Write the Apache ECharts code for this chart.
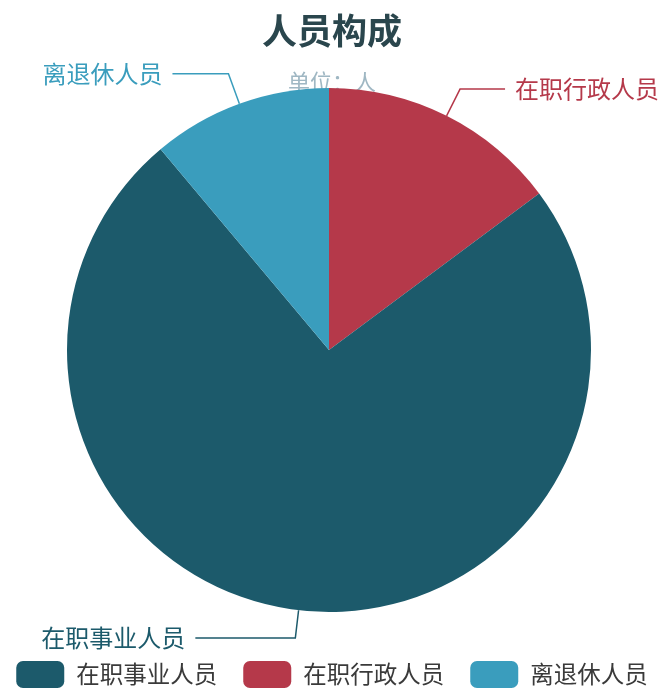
<!DOCTYPE html>
<html>
<head>
<meta charset="utf-8">
<script src="https://cdn.jsdelivr.net/npm/echarts@6/dist/echarts.min.js"></script>
<style>html,body{margin:0;padding:0;background:#fff}#c{width:664px;height:696px}</style>
</head>
<body>
<div id="c"></div>
<script>
// Data
const categories = ['在职行政人员', '在职事业人员', '离退休人员'];
const values = [40, 200, 30];
const legendOrder = ['在职事业人员', '在职行政人员', '离退休人员'];
const titleText = '人员构成';
const subtitleText = '单位：人';

// Styling
const sliceColors = {'在职行政人员': '#b5394a', '在职事业人员': '#1c5a6b', '离退休人员': '#3a9dbd'};
const lineLen = {'在职行政人员': [30, 45], '在职事业人员': [28, 100], '离退休人员': [32, 56]};
const FONT = '"Noto Sans CJK SC", "Noto Sans", sans-serif';

const chart = echarts.init(document.getElementById('c'), null, {renderer: 'canvas'});
chart.setOption({
  backgroundColor: '#ffffff',
  title: [
    {text: titleText, left: 'center', top: 8, z: 6,
     textStyle: {fontSize: 35, fontWeight: 'bold', color: '#2a464d', fontFamily: FONT}},
    {text: subtitleText, left: 'center', top: 66, z: 0, zlevel: 0,
     textStyle: {fontSize: 22, fontWeight: 'normal', color: '#9fb7c3', fontFamily: FONT}}
  ],
  legend: {
    data: legendOrder,
    left: 'center',
    top: 656,
    icon: 'roundRect',
    itemWidth: 48,
    itemHeight: 27,
    itemGap: 26,
    textStyle: {fontSize: 23.5, color: '#3a3a3a', fontFamily: FONT, padding: [0, 0, 0, 7]}
  },
  series: [{
    type: 'pie',
    z: 2,
    center: [329, 350],
    radius: [0, 262],
    startAngle: 90,
    clockwise: true,
    avoidLabelOverlap: true,
    label: {show: true, position: 'outside', fontSize: 24, fontFamily: FONT,
            distanceToLabelLine: 10, bleedMargin: 0},
    labelLine: {show: true, smooth: false, lineStyle: {width: 1.5}},
    emphasis: {disabled: true},
    data: categories.map((name, i) => ({
      name: name,
      value: values[i],
      itemStyle: {color: sliceColors[name]},
      label: {color: sliceColors[name]},
      labelLine: {length: lineLen[name][0], length2: lineLen[name][1]}
    }))
  }]
});
</script>
</body>
</html>
